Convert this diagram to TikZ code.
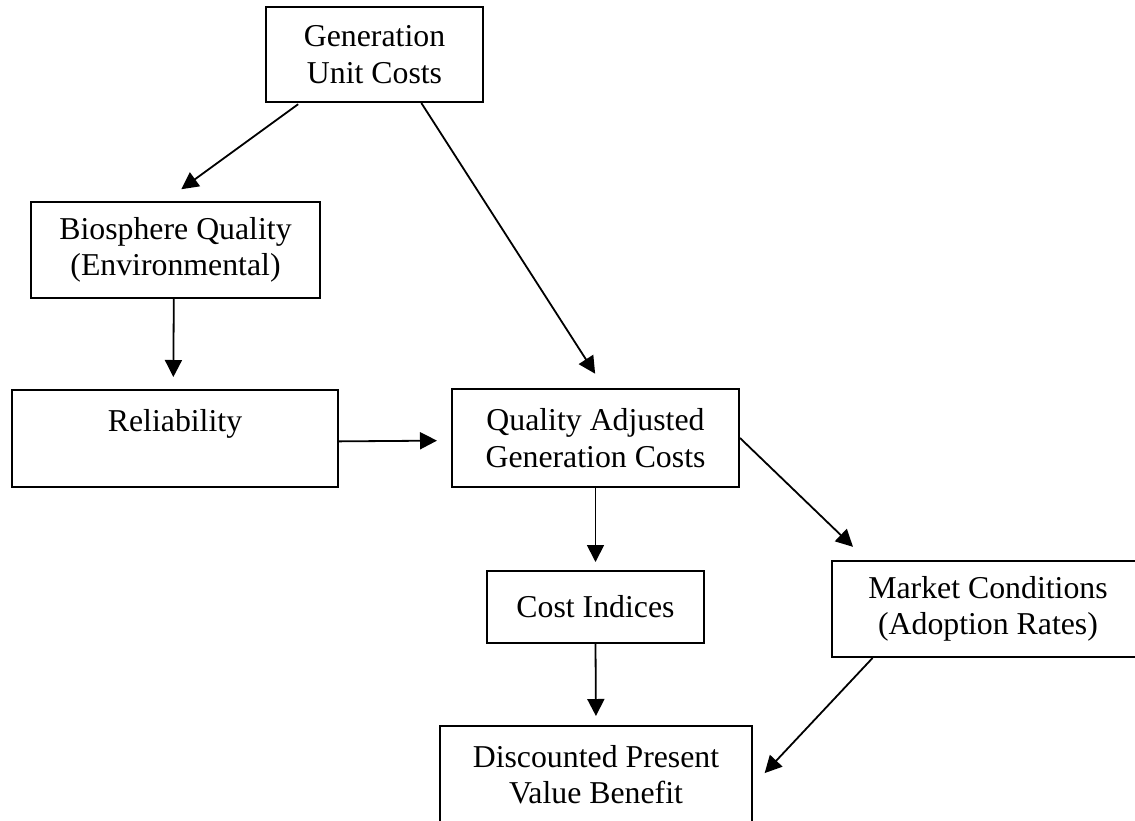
\documentclass[tikz,border=0pt]{standalone}
\usepackage{fontspec}
\setmainfont{Liberation Serif}
\usetikzlibrary{arrows.meta}

\tikzset{
  box/.style={draw, line width=2pt, align=center, inner sep=0pt, font=\fontsize{31.8}{36.5}\selectfont},
  arr/.style={line width=1.8pt, -{Triangle[length=17pt,width=17pt]}}
}

\begin{document}
\begin{tikzpicture}[x=1pt,y=-1pt]
	\useasboundingbox (0,0) rectangle (1135,820);

	\node[box, minimum width=217pt, minimum height=95pt] (gen) at (374.5,54.5) {Generation\\Unit Costs};
	\node[box, minimum width=289pt, minimum height=96pt] (bio) at (175.5,250) {Biosphere Quality\\(Environmental)};
	\node[box, minimum width=326pt, minimum height=97pt] (rel) at (175,438.5) {Reliability\\\mbox{}};
	\node[box, minimum width=287pt, minimum height=98pt] (qagc) at (595.5,438) {Quality Adjusted\\Generation Costs};
	\node[box, minimum width=217pt, minimum height=72pt] (ci) at (595.5,607) {Cost Indices};
	\node[box, minimum width=312pt, minimum height=96pt] (mkt) at (988,609) {Market Conditions\\(Adoption Rates)};
	\node[box, minimum width=312pt, minimum height=97pt] (dpv) at (596,774.5) {Discounted Present\\Value Benefit};

	\draw[arr, shorten <=2pt, shorten >=20pt] (gen.213) -- (bio.102);
	\draw[arr, shorten >=17pt] (gen.314) -- (qagc.80);
	\draw[arr, shorten >=12pt] (bio.268) -- (rel.92);
	\draw[arr, shorten >=14pt] (rel.359) -- (qagc.181);
	\draw[arr, shorten >=8pt] (qagc.south) -- (ci.north);
	\draw[arr, shorten >=19pt] (qagc.east) -- (mkt.158);
	\draw[arr, shorten >=9pt] (ci.south) -- (dpv.north);
	\draw[arr, shorten >=17pt] (mkt.203) -- (dpv.356);
\end{tikzpicture}
\end{document}
